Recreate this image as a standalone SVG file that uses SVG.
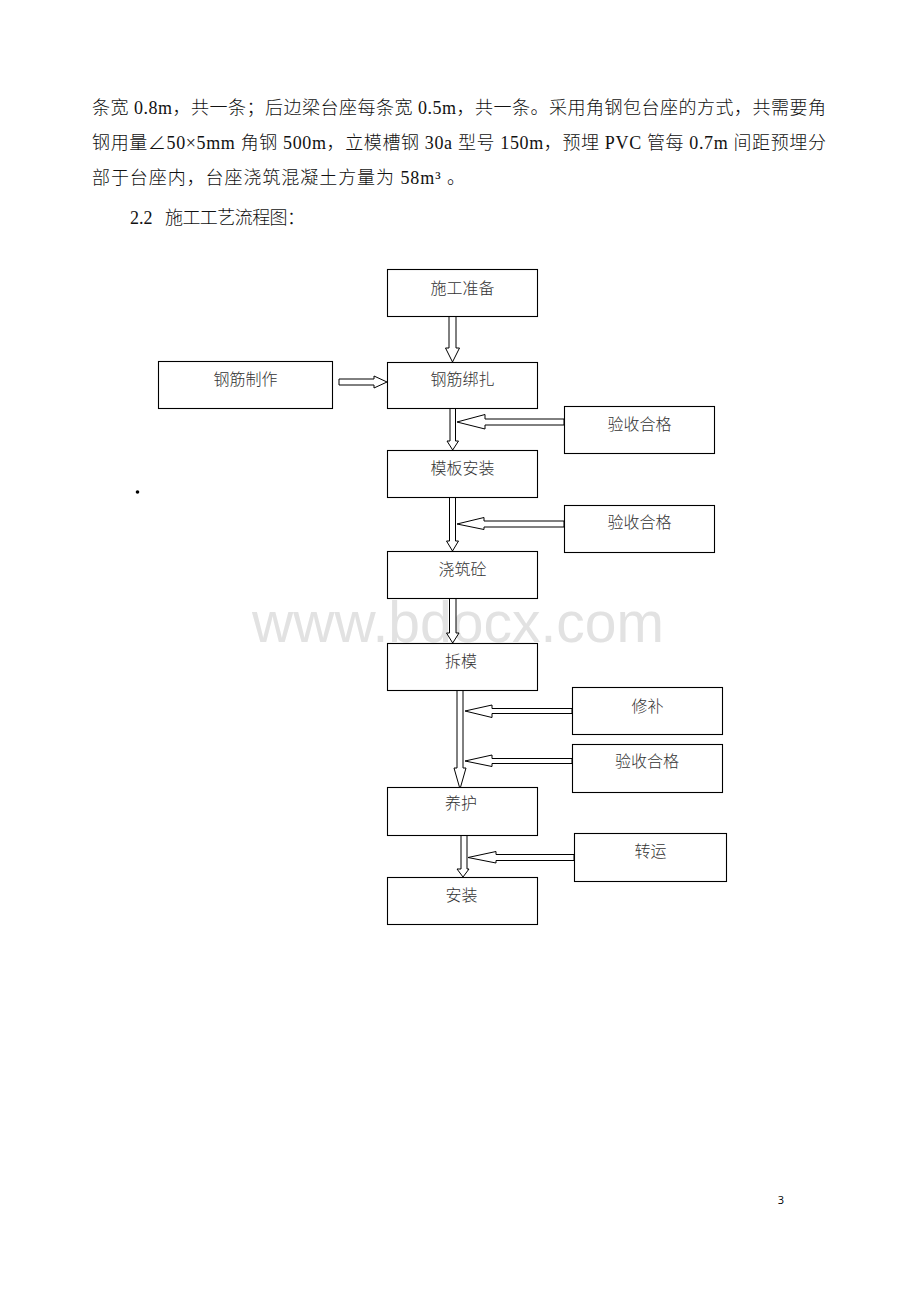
<svg xmlns="http://www.w3.org/2000/svg" width="920" height="1302" viewBox="0 0 920 1302">
<style>
.body{font-family:'Liberation Serif','Noto Sans CJK SC',serif;font-size:18px;font-weight:300;fill:#111}
.box{fill:#fff;stroke:#000;stroke-width:1.1}
.lbl{font-family:'Noto Sans CJK SC','Noto Sans',sans-serif;font-size:16px;font-weight:300;fill:#333;text-anchor:middle}
.arr{fill:#fff;stroke:#000;stroke-width:1;stroke-linejoin:miter}
.wm{font-family:'Liberation Sans',Arial,sans-serif;font-size:57px;fill:#e2e2e2;text-anchor:middle}
</style>
<rect width="920" height="1302" fill="#fff"/>
<g id="paragraph">
<text class="body" x="92" y="113.5" textLength="734" lengthAdjust="spacing">条宽 0.8m，共一条；后边梁台座每条宽 0.5m，共一条。采用角钢包台座的方式，共需要角</text>
<text class="body" x="92" y="148.5" textLength="734" lengthAdjust="spacing">钢用量∠50×5mm 角钢 500m，立模槽钢 30a 型号 150m，预埋 PVC 管每 0.7m 间距预埋分</text>
<text class="body" x="92" y="183.5" textLength="373" lengthAdjust="spacing">部于台座内，台座浇筑混凝土方量为 58m³ 。</text>
<text class="body" x="130" y="223.5">2.2</text>
<text class="body" x="165" y="223.5" textLength="140" lengthAdjust="spacing">施工工艺流程图：</text>
</g>
<text class="wm" x="458" y="642">www.bdocx.com</text>
<circle cx="137.5" cy="492" r="1.8" fill="#000"/>
<g id="connectors">
<polygon class="arr" points="449,316 456,316 456,348 459.5,348 452.5,362 445.5,348 449,348"/>
<polygon class="arr" points="339,379 374,379 374,376 387,382 374,388 374,385 339,385"/>
<polygon class="arr" points="450,404 455.5,404 455.5,441 458.5,441 452.7,450 447,441 450,441"/>
<polygon class="arr" points="564,419 485,419 485,414.5 457,422 485,429 485,425 564,425"/>
<polygon class="arr" points="449.5,492 455.5,492 455.5,541 458.5,541 452.5,551 446.5,541 449.5,541"/>
<polygon class="arr" points="564,521 484,521 484,517.5 457,524 484,529.5 484,527 564,527"/>
<polygon class="arr" points="449.5,598 456,598 456,633 459,633 452.7,643 446.5,633 449.5,633"/>
<polygon class="arr" points="457,687 463,687 463,768 466,768 460,789 454,768 457,768"/>
<polygon class="arr" points="572,708.5 492,708.5 492,705 465,711 492,717.5 492,713.5 572,713.5"/>
<polygon class="arr" points="572,758.5 492,758.5 492,755 465,761 492,766.5 492,763.5 572,763.5"/>
<polygon class="arr" points="461,831 467,831 467,869 469,869 463,877 457,869 461,869"/>
<polygon class="arr" points="574,854.5 496,854.5 496,851.5 468,857.5 496,863 496,860.5 574,860.5"/>
</g>
<g id="n1"><rect class="box" x="387.5" y="269.5" width="150" height="47"/><text class="lbl" x="462.5" y="293.5">施工准备</text></g>
<g id="n2"><rect class="box" x="158.5" y="361.5" width="174" height="47"/><text class="lbl" x="245.5" y="384.5">钢筋制作</text></g>
<g id="n3"><rect class="box" x="387.5" y="362.5" width="150" height="46"/><text class="lbl" x="462.5" y="384.5">钢筋绑扎</text></g>
<g id="n4"><rect class="box" x="564.5" y="406.5" width="150" height="47"/><text class="lbl" x="639.5" y="429.5">验收合格</text></g>
<g id="n5"><rect class="box" x="387.5" y="450.5" width="150" height="47"/><text class="lbl" x="462.5" y="473.5">模板安装</text></g>
<g id="n6"><rect class="box" x="564.5" y="505.5" width="150" height="47"/><text class="lbl" x="639.5" y="527.5">验收合格</text></g>
<g id="n7"><rect class="box" x="387.5" y="551.5" width="150" height="47"/><text class="lbl" x="462.5" y="574.5">浇筑砼</text></g>
<g id="n8"><rect class="box" x="387.5" y="643.5" width="150" height="47"/><text class="lbl" x="461" y="667">拆模</text></g>
<g id="n9"><rect class="box" x="572.5" y="687.5" width="150" height="47"/><text class="lbl" x="647.5" y="711.5">修补</text></g>
<g id="n10"><rect class="box" x="572.5" y="744.5" width="150" height="48"/><text class="lbl" x="647" y="766.5">验收合格</text></g>
<g id="n11"><rect class="box" x="387.5" y="787.5" width="150" height="48"/><text class="lbl" x="461" y="809">养护</text></g>
<g id="n12"><rect class="box" x="574.5" y="833.5" width="152" height="48"/><text class="lbl" x="650.5" y="857">转运</text></g>
<g id="n13"><rect class="box" x="387.5" y="877.5" width="150" height="47"/><text class="lbl" x="461.5" y="900.5">安装</text></g>
<text x="781" y="1204" font-family="'Open Sans','Liberation Sans',sans-serif" font-size="11" text-anchor="middle" fill="#000">3</text>
</svg>
